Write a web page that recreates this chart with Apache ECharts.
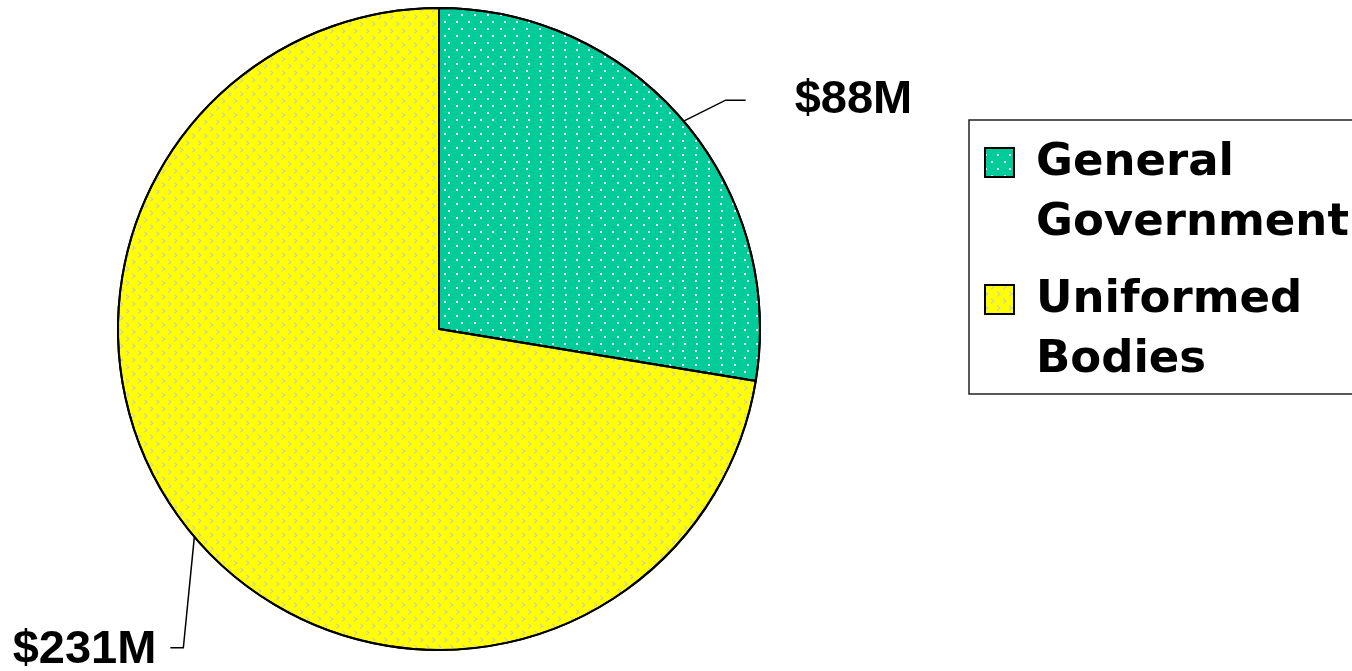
<!DOCTYPE html>
<html><head><meta charset="utf-8">
<script src="https://cdn.jsdelivr.net/npm/echarts@6/dist/echarts.min.js"></script>
<style>html,body{margin:0;padding:0;background:#fff}#c{width:1352px;height:671px}</style>
</head><body><div id="c"></div>
<script>
const categories = ['General Government', 'Uniformed Bodies'];
const legendLabels = ['General\nGovernment', 'Uniformed\nBodies'];
const values = [88, 231];
const valueLabels = ['$88M', '$231M'];
const colors = ['#00cc99', '#ffff00'];

const decals = [
  { symbol: 'rect', symbolSize: 1, color: 'rgba(255,255,255,0.9)',
    dashArrayX: [[1.5, 10], [0, 5.75, 1.5, 4.25]], dashArrayY: [1.5, 5], rotation: 0 },
  { symbol: 'path://M0,0L4,3L0,6L0,4.4L2,3L0,1.6Z', symbolSize: 1, color: '#cfcfae',
    dashArrayX: [[4, 7.5], [0, 5.75, 4, 1.75]], dashArrayY: [6, 1], rotation: 0 }
];

const chart = echarts.init(document.getElementById('c'));
chart.setOption({
  animation: false,
  backgroundColor: '#fff',
  legend: {
    orient: 'vertical', left: 969, top: 120,
    padding: [12, 20, 3, 15], itemGap: 15,
    itemWidth: 46, itemHeight: 120,
    icon: 'path://M0,0L0.01,0M0,15L29,15L29,44L0,44ZM46,120L45.99,120',
    borderColor: '#222', borderWidth: 1.5, backgroundColor: '#fff', borderRadius: 0,
    selectedMode: false,
    formatter: function (name) { return legendLabels[categories.indexOf(name)]; },
    textStyle: { fontFamily: 'DejaVu Sans', fontWeight: 'bold', fontSize: 45, lineHeight: 60, color: '#000' },
    data: categories
  },
  series: [{
    type: 'pie',
    center: [439, 329],
    radius: 321,
    startAngle: 90,
    clockwise: true,
    avoidLabelOverlap: false,
    itemStyle: { borderColor: '#000', borderWidth: 2 },
    label: {
      show: true, position: 'outside',
      fontFamily: 'Liberation Sans, Arial, sans-serif', fontWeight: 'bold', fontSize: 47, color: '#000',
      formatter: function (p) { return valueLabels[p.dataIndex]; }
    },
    labelLine: { show: true, length: 30, length2: 20, lineStyle: { color: '#000', width: 1.5 } },
    labelLayout: function (params) {
      const p0 = params.labelLinePoints[0];
      if (params.dataIndex === 0) {
        const p1 = [p0[0] + 42, p0[1] - 21];
        const p2 = [p0[0] + 62, p0[1] - 21];
        return { x: p2[0] + 49, y: p2[1], align: 'left', verticalAlign: 'middle', labelLinePoints: [p0, p1, p2] };
      } else {
        const p1 = [p0[0] - 11, p0[1] + 111];
        const p2 = [p0[0] - 24, p0[1] + 111];
        return { x: p2[0] - 14, y: p2[1] + 2, align: 'right', verticalAlign: 'middle', labelLinePoints: [p0, p1, p2] };
      }
    },
    emphasis: { disabled: true },
    data: categories.map(function (c, i) {
      return { name: c, value: values[i], itemStyle: { color: colors[i], decal: decals[i] } };
    })
  }]
});
</script>
</body></html>
